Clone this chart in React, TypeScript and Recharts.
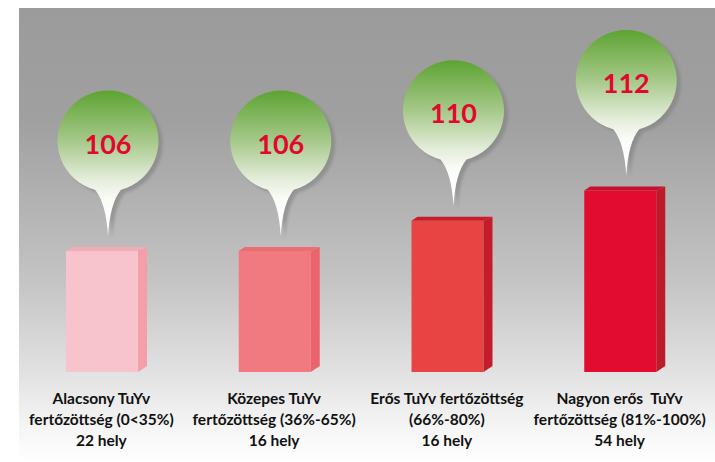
import React from 'react';
import { BarChart, Bar, XAxis, YAxis } from 'recharts';

// bar heights (relative level of infestation), balloon numbers, site counts
const categories = ['Alacsony', 'Közepes', 'Erős', 'Nagyon erős'];
const barLevels = [4, 4, 5, 6];
const scores = [106, 106, 110, 112];
const siteCounts = [22, 16, 16, 54];
const labelLine1 = ['Alacsony TuYv', 'Közepes TuYv', 'Erős TuYv fertőzöttség', 'Nagyon erős  TuYv'];
const labelLine2 = ['fertőzöttség (0<35%)', 'fertőzöttség (36%-65%)', '(66%-80%)', 'fertőzöttség (81%-100%)'];

const FRONT = ['#f7c4cd', '#f07a80', '#e84444', '#e20b30'];
const SIDE = ['#f29eab', '#eb636c', '#c41c2b', '#bd1a2a'];
const TOP = ['#f3abb6', '#ec6e75', '#c81e2b', '#c8102e'];

const data = categories.map((name, i) => ({
  name,
  idx: i,
  level: barLevels[i],
  score: scores[i],
}));

const FONT = 'Lato, "Open Sans", sans-serif';

function Column3D(props: any) {
  const { x, y, width, height, payload } = props;
  const i = payload.idx;
  const dx = 9;
  const bottom = y + height;
  const right = x + width;

  // balloon geometry
  const cx = x + width / 2 + 6;
  const cy = y - 110;
  const r = 50.5;
  const nx = 13;
  const ny = Math.sqrt(r * r - nx * nx);
  const tip = 95;
  const balloon =
    `M ${cx - nx} ${cy + ny} A ${r} ${r} 0 1 1 ${cx + nx} ${cy + ny} ` +
    `Q ${cx + 2} ${cy + 62} ${cx} ${cy + tip} ` +
    `Q ${cx - 2} ${cy + 62} ${cx - nx} ${cy + ny} Z`;

  return (
    <g>
      <defs>
        <linearGradient id={'bg' + i} x1="0" y1="0" x2="0" y2="1">
          <stop offset="0%" stopColor="#5da332" />
          <stop offset="35%" stopColor="#a7c98b" />
          <stop offset="62%" stopColor="#e6eedd" />
          <stop offset="75%" stopColor="#fafcf8" />
          <stop offset="100%" stopColor="#ffffff" />
        </linearGradient>
        <filter id={'sh' + i} x="-20%" y="-20%" width="140%" height="140%">
          <feGaussianBlur stdDeviation="1.5" />
        </filter>
      </defs>
      {/* front, side and top faces */}
      <rect x={x} y={y} width={width} height={height} fill={FRONT[i]} />
      <polygon
        points={`${right},${y} ${right + dx},${y - 4} ${right + dx},${bottom - 6} ${right},${bottom}`}
        fill={SIDE[i]}
      />
      <polygon
        points={`${x},${y} ${x + 6},${y - 4} ${right + dx},${y - 4} ${right},${y}`}
        fill={TOP[i]}
      />
      {/* balloon with shadow */}
      <path d={balloon} fill="#7d7d7d" opacity={0.55} transform="translate(4,3)" filter={`url(#sh${i})`} />
      <path d={balloon} fill={`url(#bg${i})`} />
      <text
        x={cx}
        y={cy + 2}
        textAnchor="middle"
        dominantBaseline="central"
        fontFamily={FONT}
        fontWeight={700}
        fontSize={27}
        fill="#e0092d"
      >
        {payload.score}
      </text>
    </g>
  );
}

function CategoryTick(props: any) {
  const { x, y, payload } = props;
  const i = categories.indexOf(payload.value);
  const lines = [labelLine1[i], labelLine2[i], siteCounts[i] + ' hely'];
  return (
    <g>
      {lines.map((t, k) => (
        <text
          key={k}
          x={x - 1}
          y={y + 18 + k * 21}
          textAnchor="middle"
          dominantBaseline="central"
          fontFamily={FONT}
          fontWeight={700}
          fontSize={15.5}
          fill="#111"
          style={{ whiteSpace: 'pre' }}
        >
          {t}
        </text>
      ))}
    </g>
  );
}

export default function App() {
  return (
    <div style={{ position: 'absolute', left: 0, top: 0, width: 715, height: 462, background: '#fff' }}>
      {/* gray panel behind the chart */}
      <div
        style={{
          position: 'absolute',
          left: 19,
          top: 8,
          width: 696,
          height: 454,
          background:
            'linear-gradient(to bottom, #9b9b9b 0%, #a0a0a0 25%, #c4c4c4 60%, #e1e1e1 80%, #f6f6f6 93%, #ffffff 100%)',
        }}
      />
      <div style={{ position: 'absolute', left: 0, top: 0 }}>
        <BarChart width={715} height={462} data={data} margin={{ top: 9, right: 8, bottom: 0, left: 16 }}>
          <YAxis hide domain={[0, 12]} />
          <XAxis
            dataKey="name"
            height={90}
            axisLine={false}
            tickLine={false}
            interval={0}
            tick={<CategoryTick />}
          />
          <Bar dataKey="level" barSize={72} shape={<Column3D />} isAnimationActive={false} />
        </BarChart>
      </div>
    </div>
  );
}
